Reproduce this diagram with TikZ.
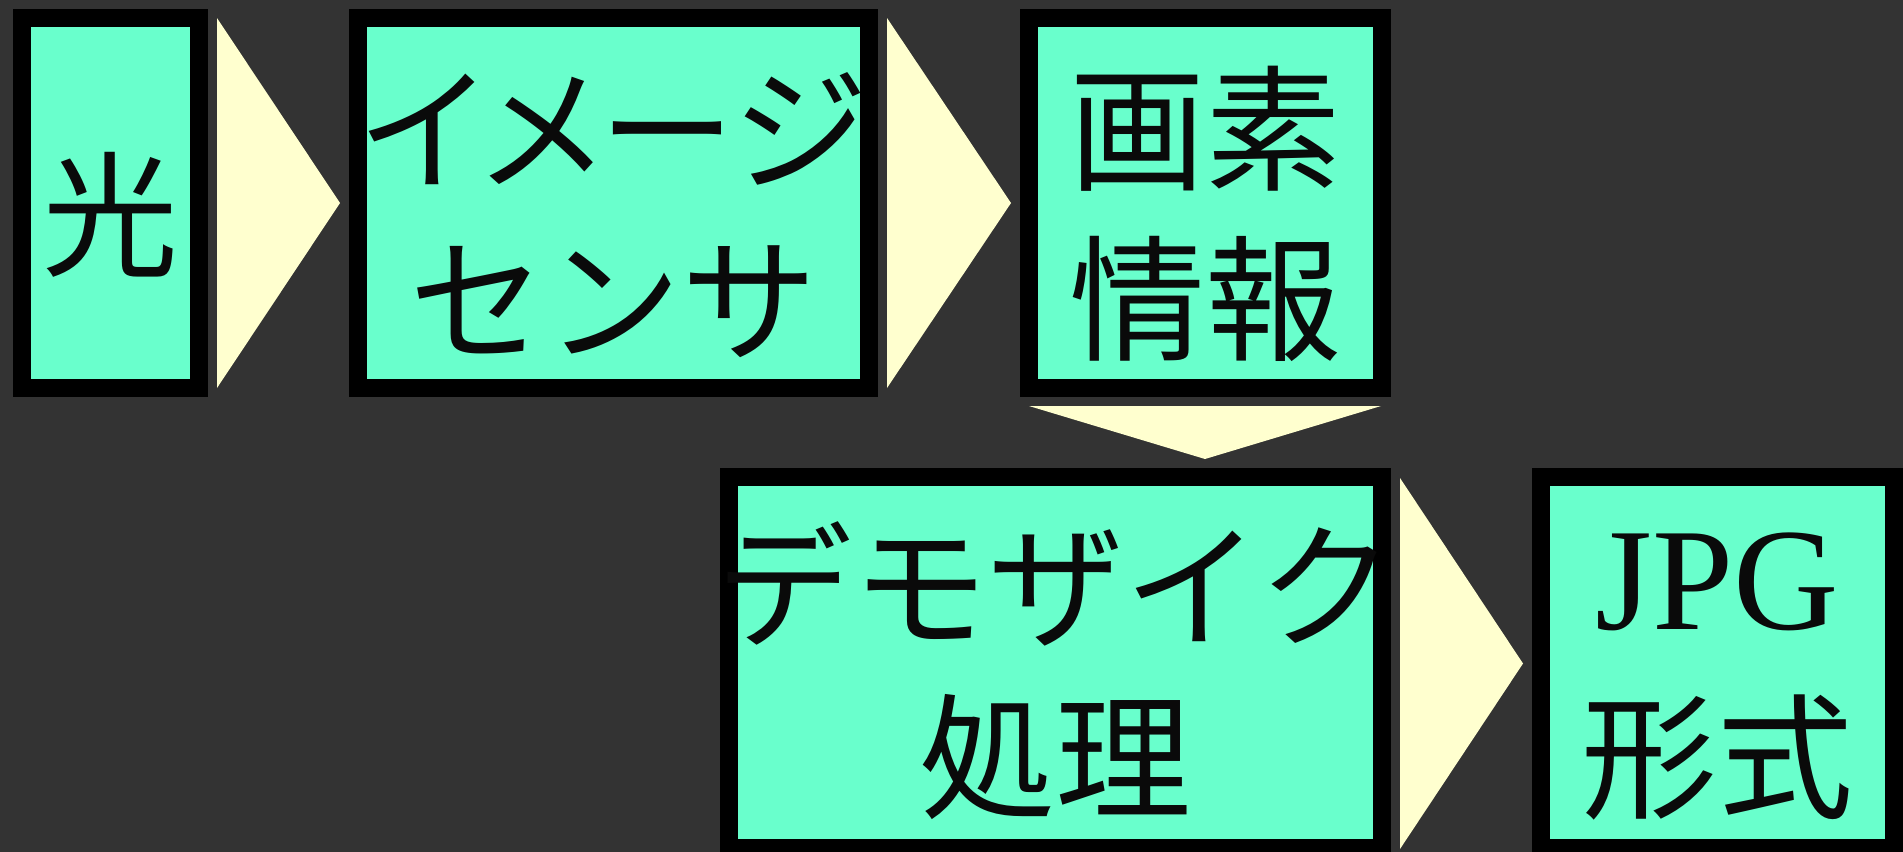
\documentclass[tikz,border=0pt]{standalone}
\usepackage{fontspec}
\newfontfamily\jp{Noto Sans CJK JP}
\newfontfamily\jpp[RawFeature=+palt]{Noto Sans CJK JP}
\newfontfamily\lat{Liberation Serif}
\definecolor{bg}{HTML}{333333}
\definecolor{aqua}{HTML}{69FFCC}
\definecolor{pale}{HTML}{FFFFCF}
\definecolor{ink}{HTML}{0A0A0A}
\begin{document}
\begin{tikzpicture}[x=0.5pt,y=-0.5pt,
  boxst/.style={draw=black, line width=9pt, fill=aqua, rectangle, inner sep=0pt},
  tri/.style={fill=pale},
  jptext/.style={font=\jp\fontsize{68pt}{85pt}\selectfont, text=ink, inner sep=0pt, text height=59.84pt, text depth=8.16pt},
  jpptext/.style={jptext, font=\jpp\fontsize{68pt}{85pt}\selectfont},
  lattext/.style={font=\lat\fontsize{73pt}{85pt}\selectfont, text=ink, inner sep=0pt, anchor=base}]
\fill[bg] (0,0) rectangle (1903,852);
\useasboundingbox (0,0) rectangle (1903,852);
% boxes
\node[boxst, minimum width=88.5pt, minimum height=185pt] (b1) at (110.5,203) {};
\node[boxst, minimum width=255.5pt, minimum height=185pt] (b2) at (613.5,203) {};
\node[boxst, minimum width=176.5pt, minimum height=185pt] (b3) at (1205.5,203) {};
\node[boxst, minimum width=326.5pt, minimum height=185.5pt] (b4) at (1055.5,662.5) {};
\node[boxst, minimum width=176.5pt, minimum height=185.5pt] (b5) at (1717.5,662.5) {};
% triangles
\fill[tri] (217,18) -- (217,388) -- (340,203) -- cycle;
\fill[tri] (887,18) -- (887,388) -- (1011,203) -- cycle;
\fill[tri] (1029,406) -- (1381,406) -- (1205,459) -- cycle;
\fill[tri] (1400,478) -- (1400,849) -- (1523,663.5) -- cycle;
% texts
\node[jptext] (t1) at (110.5,214.5) {光};
\node[jpptext] (t2a) at (613.5,129) {イメージ};
\node[jptext] (t2b) at (613.5,300) {センサ};
\node[jptext] (t3a) at (1205.5,129) {画素};
\node[jptext] (t3b) at (1205.5,299) {情報};
\node[jptext] (t4a) at (1055.5,586) {デモザイク};
\node[jptext] (t4b) at (1055.5,757) {処理};
\node[lattext] (t5a) at (1717.5,629) {JPG};
\node[jptext] (t5b) at (1717.5,757) {形式};
\end{tikzpicture}
\end{document}
